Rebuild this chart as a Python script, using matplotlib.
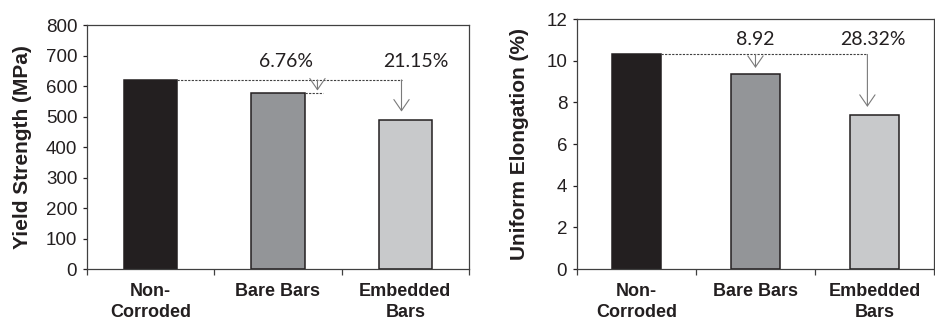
"""Yield strength and uniform elongation of corroded vs. non-corroded bars."""

import matplotlib

matplotlib.use("Agg")
import matplotlib.pyplot as plt

categories = ["Non-\nCorroded", "Bare Bars", "Embedded\nBars"]
yield_strength = [620, 578, 489]          # MPa
uniform_elongation = [10.3, 9.38, 7.38]   # %
yield_loss_labels = ["6.76%", "21.15%"]
elong_loss_labels = ["8.92", "28.32%"]

bar_colors = ["#231f20", "#939598", "#c8c9cb"]
text_color = "#231f20"

plt.rcParams["font.family"] = ["Liberation Sans", "DejaVu Sans"]

fig = plt.figure(figsize=(9.35, 3.25), dpi=100)
ax1 = fig.add_axes([0.093, 0.1723, 0.4086, 0.7507])
ax2 = fig.add_axes([0.617, 0.1723, 0.382, 0.7692])


def style_axes(ax, ylim, yticks, ylabel, label_x):
    ax.set_xlim(-0.5, 2.5)
    ax.set_ylim(*ylim)
    ax.set_yticks(yticks)
    ax.tick_params(axis="y", direction="out", length=3, width=0.9, pad=4,
                   labelsize=13.5, colors=text_color)
    # category names sit at bar centres, tick marks at the slot boundaries
    ax.set_xticks(range(len(categories)))
    ax.set_xticklabels(categories, fontsize=13, fontweight="bold",
                       linespacing=1.35, color=text_color)
    ax.tick_params(axis="x", length=0, pad=10)
    ax.set_xticks([-0.5, 0.5, 1.5, 2.5], minor=True)
    ax.tick_params(axis="x", which="minor", direction="out", length=4,
                   width=0.9, color="#404040")
    for sp in ax.spines.values():
        sp.set_color("#404040")
        sp.set_linewidth(0.9)
    ax.set_ylabel(ylabel, fontsize=15, fontweight="bold", color=text_color,
                  va="center")
    ax.yaxis.set_label_coords(label_x, 0.5)


def drop_arrow(ax, x, y_from, y_to):
    ax.annotate("", xy=(x, y_to), xytext=(x, y_from),
                arrowprops=dict(arrowstyle="->,head_length=0.8,head_width=0.55",
                                color="#7a7a7a", lw=0.8, shrinkA=0, shrinkB=0))


dotted = dict(color="#404040", lw=0.8, linestyle=(0, (2, 1.2)))
note_font = dict(fontsize=14, family="Lato", color=text_color,
                 ha="center", va="center")

# --- yield strength ---
ax1.bar(range(3), yield_strength, width=0.42, color=bar_colors,
        edgecolor="#231f20", linewidth=1.1, zorder=2)
style_axes(ax1, (0, 800), range(0, 801, 100), "Yield Strength (MPa)", -0.17)
ref = yield_strength[0]
ax1.plot([0.21, 1.97], [ref, ref], **dotted, zorder=3)
ax1.plot([1.21, 1.35], [yield_strength[1], yield_strength[1]], **dotted, zorder=3)
drop_arrow(ax1, 1.31, ref, yield_strength[1] + 7)
drop_arrow(ax1, 1.97, ref, yield_strength[2] + 27)
ax1.text(1.06, 680, yield_loss_labels[0], **note_font)
ax1.text(2.08, 680, yield_loss_labels[1], **note_font)

# --- uniform elongation ---
ax2.bar(range(3), uniform_elongation, width=0.41, color=bar_colors,
        edgecolor="#231f20", linewidth=1.1, zorder=2)
style_axes(ax2, (0, 12), range(0, 13, 2), "Uniform Elongation (%)", -0.16)
ref = uniform_elongation[0]
ax2.plot([0.205, 1.94], [ref, ref], **dotted, zorder=3)
drop_arrow(ax2, 1.0, ref, uniform_elongation[1] + 0.27)
drop_arrow(ax2, 1.94, ref, uniform_elongation[2] + 0.4)
ax2.text(1.0, 11.0, elong_loss_labels[0], **note_font)
ax2.text(1.99, 11.0, elong_loss_labels[1], **note_font)

fig.savefig("out.png", dpi=100)
